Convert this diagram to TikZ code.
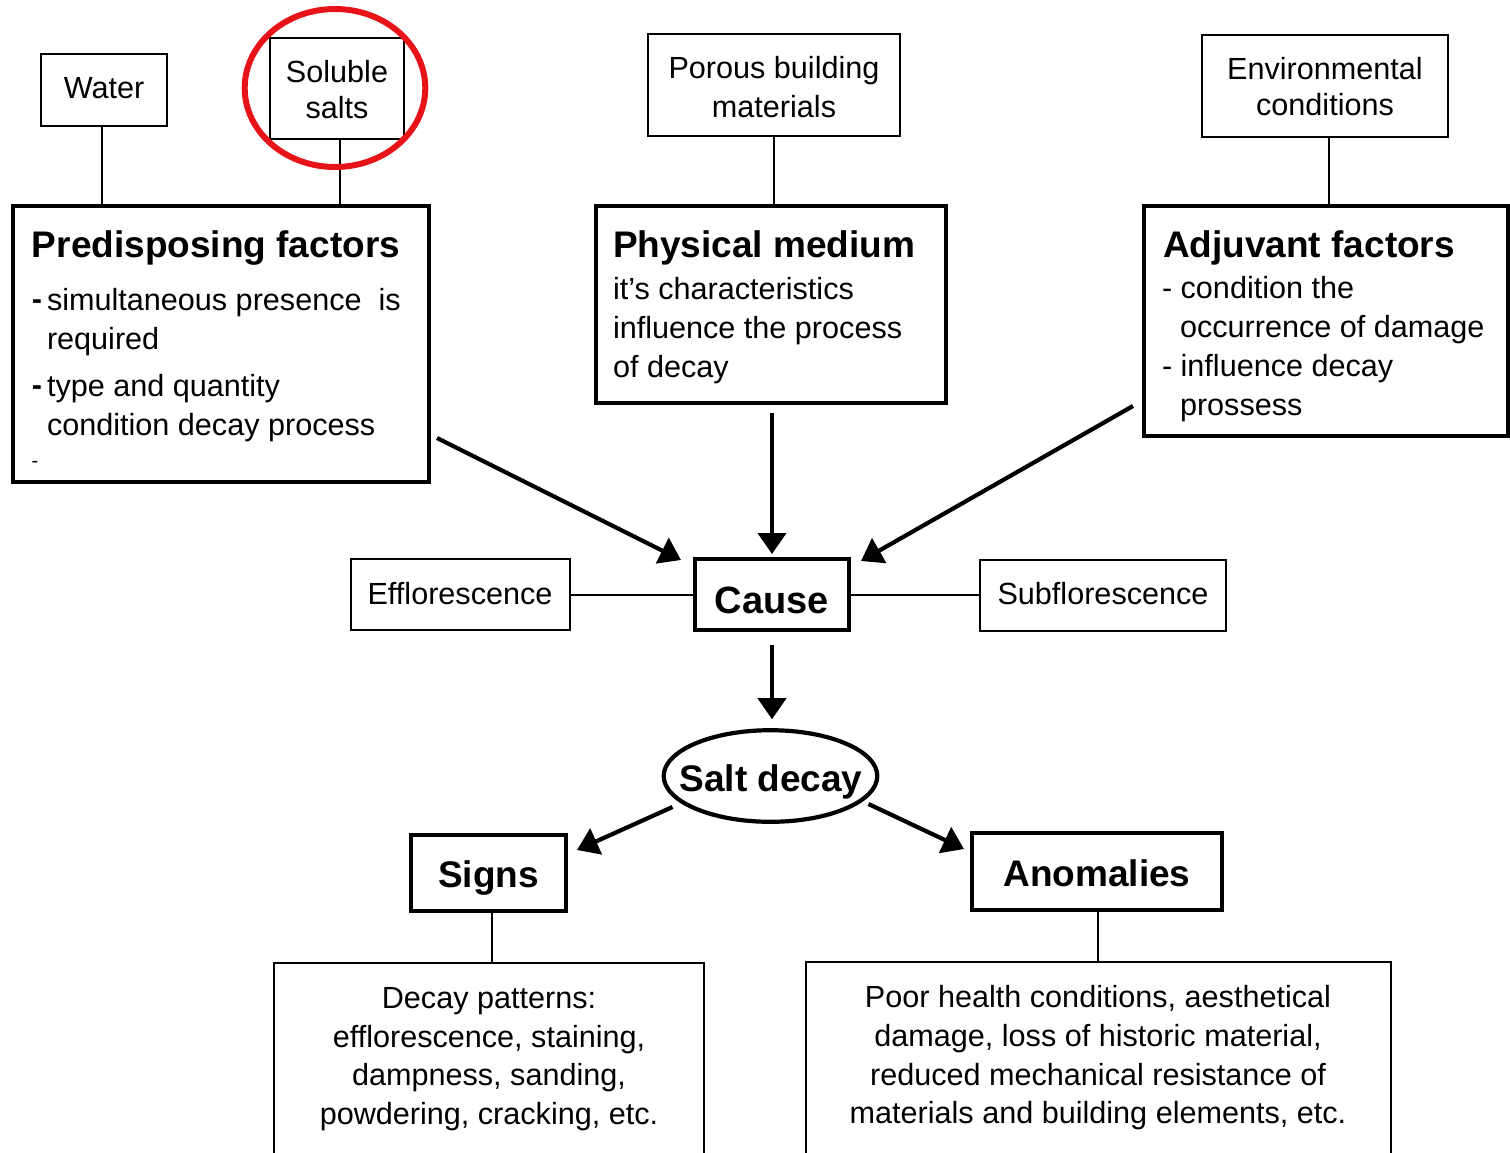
\documentclass[tikz,border=0pt]{standalone}
\usepackage{fontspec}
\setmainfont{Liberation Sans}
\usetikzlibrary{arrows.meta,shapes.geometric,fit,calc}
\definecolor{markred}{RGB}{230,20,25}
\begin{document}
\begin{tikzpicture}[x=0.5pt,y=-0.5pt,
  thinbox/.style={draw,line width=1pt,inner sep=0pt,outer sep=0pt},
  thickbox/.style={draw,line width=2.2pt,inner sep=0pt,outer sep=0pt},
  body/.style={inner sep=0pt,outer sep=0pt,font=\fontsize{15.3}{19}\selectfont},
  head/.style={inner sep=0pt,outer sep=0pt,font=\fontsize{18.5}{22}\selectfont\bfseries},
  link/.style={line width=1pt},
  push/.style={line width=2.1pt,-{Triangle[length=10.5pt,width=14pt]}},
]
\fill[white] (0,0) rectangle (1510,1152);
\useasboundingbox (0,0) rectangle (1510,1152);

% ---- top row: ingredients ----
\node[thinbox,fit={(41,54)(167,126)}] (water) {};
\node[body,anchor=base] (waterT) at (104,98) {Water};

\node[thinbox,fit={(270,38)(404,139)}] (salts) {};
\node[body,anchor=base] (saltsT1) at (337,82) {Soluble};
\node[body,anchor=base] (saltsT2) at (337,118) {salts};

\node[thinbox,fit={(648,34)(900,136)}] (porous) {};
\node[body,anchor=base] (porousT1) at (774,78) {Porous building};
\node[body,anchor=base] (porousT2) at (774,117) {materials};

\node[thinbox,fit={(1202,35)(1448,137)}] (env) {};
\node[body,anchor=base] (envT1) at (1325,79) {Environmental};
\node[body,anchor=base] (envT2) at (1325,115) {conditions};

% ---- factor boxes ----
\node[thickbox,fit={(13,206)(429,482)}] (pre) {};
\node[head,anchor=base west] (preH) at (32,257) {Predisposing factors};
\node[body,anchor=base west,font=\fontsize{15.3}{19}\selectfont\bfseries] (preD1) at (32,309) {-};
\node[body,anchor=base west] (preL1) at (47,310) {simultaneous presence\ \ is};
\node[body,anchor=base west] (preL2) at (47,349) {required};
\node[body,anchor=base west,font=\fontsize{15.3}{19}\selectfont\bfseries] (preD2) at (32,395) {-};
\node[body,anchor=base west] (preL3) at (47,396) {type and quantity};
\node[body,anchor=base west] (preL4) at (47,435) {condition decay process};
\node[inner sep=0pt,font=\fontsize{10}{12}\selectfont] (preD3) at (35,464) {-};

\node[thickbox,fit={(596,206)(946,403)}] (phys) {};
\node[head,anchor=base west] (physH) at (613,257) {Physical medium};
\node[body,anchor=base west] (physL1) at (613,299) {it’s characteristics};
\node[body,anchor=base west] (physL2) at (613,338) {influence the process};
\node[body,anchor=base west] (physL3) at (613,377) {of decay};

\node[thickbox,fit={(1144,206)(1508,436)}] (adj) {};
\node[head,anchor=base west] (adjH) at (1163,257) {Adjuvant factors};
\node[body,anchor=base west] (adjL1) at (1162,298) {- condition the};
\node[body,anchor=base west] (adjL2) at (1180,337) {occurrence of damage};
\node[body,anchor=base west] (adjL3) at (1162,376) {- influence decay};
\node[body,anchor=base west] (adjL4) at (1180,415) {prossess};

% ---- cause row ----
\node[thinbox,fit={(351,559)(570,630)}] (efflo) {};
\node[body,anchor=base] (effloT) at (460,604) {Efflorescence};

\node[thickbox,fit={(695,559)(849,630)}] (cause) {};
\node[inner sep=0pt,anchor=base,font=\fontsize{19}{22}\selectfont\bfseries] (causeT) at (772,613) {Cause};

\node[thinbox,fit={(980,560)(1226,631)}] (subflo) {};
\node[body,anchor=base] (subfloT) at (1103,604) {Subflorescence};

% ---- outcome ----
\node[ellipse,draw,line width=2.1pt,inner sep=0pt,outer sep=0pt,
      minimum width=106.8pt,minimum height=45.8pt] (salt) at (770.5,776) {};
\node[head,anchor=base] (saltT) at (771,791) {Salt decay};

\node[thickbox,fit={(411,835)(566,911)}] (signs) {};
\node[head,anchor=base] (signsT) at (488.5,887) {Signs};

\node[thickbox,fit={(972,833)(1222,910)}] (anom) {};
\node[head,anchor=base] (anomT) at (1097,886) {Anomalies};

\node[thinbox,fit={(274,963)(704,1170)}] (decay) {};
\node[body,anchor=base] (decayL1) at (489,1008) {Decay patterns:};
\node[body,anchor=base] (decayL2) at (489,1047) {efflorescence, staining,};
\node[body,anchor=base] (decayL3) at (489,1085) {dampness, sanding,};
\node[body,anchor=base] (decayL4) at (489,1124) {powdering, cracking, etc.};

\node[thinbox,fit={(806,962)(1391,1170)}] (poor) {};
\node[body,anchor=base] (poorL1) at (1098,1007) {Poor health conditions, aesthetical};
\node[body,anchor=base] (poorL2) at (1098,1046) {damage, loss of historic material,};
\node[body,anchor=base] (poorL3) at (1098,1085) {reduced mechanical resistance of};
\node[body,anchor=base] (poorL4) at (1098,1123) {materials and building elements, etc.};

% ---- plain links ----
\draw[link] ($(water.south)+(-2,0)$) -- ($(water.south |- pre.north)+(-2,0)$);
\draw[link] ($(salts.south)+(3,0)$) -- ($(salts.south |- pre.north)+(3,0)$);
\draw[link] (porous.south) -- (porous.south |- phys.north);
\draw[link] ($(env.south)+(4,0)$) -- ($(env.south |- adj.north)+(4,0)$);
\draw[link] (efflo.east) -- (efflo.east -| cause.west);
\draw[link] (cause.east) -- (cause.east -| subflo.west);
\draw[link] ($(signs.south)+(3,0)$) -- ($(signs.south |- decay.north)+(3,0)$);
\draw[link] ($(anom.south)+(1,0)$) -- ($(anom.south |- poor.north)+(1,0)$);

% ---- arrows ----
\draw[push] ($(pre.south east)+(8,-44)$) -- ($(cause.north west)+(-14,1)$);
\draw[push,shorten <=5pt,shorten >=2.5pt] (phys.south -| cause.north) -- (cause.north);
\draw[push] ($(adj.south west)+(-11,-30)$) -- ($(cause.north east)+(12,2)$);
\draw[push,shorten <=7.5pt,shorten >=5.5pt] (cause.south) -- (cause.south |- salt.north);
\draw[push] ($(salt.center)+(-98,31)$) -- ($(signs.north east)+(11,15)$);
\draw[push] ($(salt.center)+(98,28)$) -- ($(anom.north west)+(-8,16)$);

% ---- highlight ring ----
\node[ellipse,draw=markred,line width=3pt,inner sep=0pt,outer sep=0pt,
      minimum width=90.3pt,minimum height=79pt] (ring) at (335,88) {};
\end{tikzpicture}
\end{document}
